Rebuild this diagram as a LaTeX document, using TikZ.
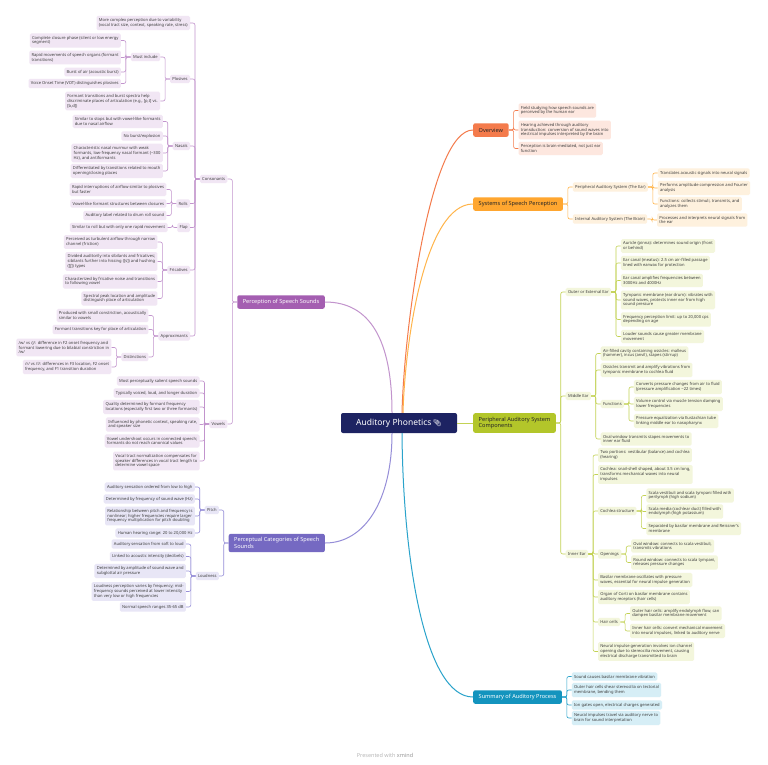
\documentclass[tikz,border=0pt]{standalone}
\usepackage{fontspec}
\setmainfont{Noto Sans}
\newfontfamily\emo{Noto Emoji}
\usetikzlibrary{calc}
\definecolor{rootc}{HTML}{1D2362}
\definecolor{leaftext}{HTML}{3C3C3C}
\definecolor{ovF}{HTML}{F47B4C}\definecolor{ovL}{HTML}{F47B4C}\definecolor{ovLeaf}{HTML}{FDE7DF}
\definecolor{syF}{HTML}{FFA62F}\definecolor{syL}{HTML}{FFB54A}\definecolor{syLeaf}{HTML}{FEF1DE}
\definecolor{pcF}{HTML}{B3C62A}\definecolor{pcL}{HTML}{C3D254}\definecolor{pcLeaf}{HTML}{F3F6DC}
\definecolor{suF}{HTML}{1494BE}\definecolor{suL}{HTML}{2AA3CB}\definecolor{suLeaf}{HTML}{D6EEF6}
\definecolor{peF}{HTML}{A45EB1}\definecolor{peL}{HTML}{C294CD}\definecolor{peLeaf}{HTML}{F1E6F4}
\definecolor{caF}{HTML}{7569C2}\definecolor{caL}{HTML}{968ED8}\definecolor{caLeaf}{HTML}{E8E6F6}
\newcommand\lffont{\fontsize{4.1}{4.8}\selectfont}
\newcommand\brfont{\fontsize{5.6}{6.6}\selectfont}
\tikzset{
  leafbase/.style={font=\lffont, text=leaftext, rounded corners=1.5pt, inner xsep=2.3pt, inner ysep=2.6pt, align=left},
  linebase/.style={line width=0.6pt, rounded corners=2pt},
  rootline/.style={line width=1pt},
  mainbase/.style={font=\brfont, rounded corners=2pt, inner xsep=5.5pt, inner ysep=3.7pt, minimum height=13.5pt, align=left},
  ovleaf/.style={leafbase, fill=ovLeaf}, ovline/.style={linebase, draw=ovL},
  syleaf/.style={leafbase, fill=syLeaf}, syline/.style={linebase, draw=syL},
  pcleaf/.style={leafbase, fill=pcLeaf}, pcline/.style={linebase, draw=pcL},
  suleaf/.style={leafbase, fill=suLeaf}, suline/.style={linebase, draw=suL},
  peleaf/.style={leafbase, fill=peLeaf}, peline/.style={linebase, draw=peL},
  caleaf/.style={leafbase, fill=caLeaf}, caline/.style={linebase, draw=caL},
}
% right child: #1 prefix, #2 name, #3 parent, #4 y, #5 text
\newcommand\RC[5]{%
  \path (#3.east) ++(9.5,0) coordinate (tmp);
  \node[#1leaf,anchor=west] (#2) at (tmp |- 0,#4) {#5};
  \draw[#1line] (#3.east) -- ++(4.75,0) |- (#2.west);}
\newcommand\LC[5]{%
  \path (#3.west) ++(-9.5,0) coordinate (tmp);
  \node[#1leaf,anchor=east] (#2) at (tmp |- 0,#4) {#5};
  \draw[#1line] (#3.west) -- ++(-4.75,0) |- (#2.east);}
\begin{document}
\begin{tikzpicture}[x=1pt,y=-1pt]
\path[use as bounding box, fill=white] (0,0) rectangle (768,764);

% root
\node[fill=rootc, text=white, rounded corners=2pt, minimum width=116pt, minimum height=20pt, inner sep=0pt,
  font=\fontsize{8.5}{10}\selectfont] (root) at (399,423) {Auditory Phonetics\,{\emo\fontsize{7}{8}\selectfont\symbol{"1F4CE}}};

% ===== Overview
\node[mainbase, fill=ovF, text=black!85, anchor=west] (ov) at (473,130) {Overview};
\RC{ov}{ov1}{ov}{110.5}{Field studying how speech sounds are\\perceived by the human ear}
\RC{ov}{ov2}{ov}{130}{Hearing achieved through auditory\\transduction: conversion of sound waves into\\electrical impulses interpreted by the brain}
\RC{ov}{ov3}{ov}{148.5}{Perception is brain-mediated, not just ear\\function}

% ===== Systems
\node[mainbase, fill=syF, text=black!85, anchor=west] (sy) at (473,204) {Systems of Speech Perception};
\RC{sy}{sy1}{sy}{187}{Peripheral Auditory System (The Ear)}
\RC{sy}{sy2}{sy}{219}{Internal Auditory System (The Brain)}
\RC{sy}{sy11}{sy1}{173}{Translates acoustic signals into neural signals}
\RC{sy}{sy12}{sy1}{188}{Performs amplitude compression and Fourier\\analysis}
\RC{sy}{sy13}{sy1}{204}{Functions: collects stimuli, transmits, and\\analyzes them}
\RC{sy}{sy21}{sy2}{220}{Processes and interprets neural signals from\\the ear}

% ===== Peripheral components
\node[mainbase, fill=pcF, text=black!85, anchor=west] (pc) at (473,423) {Peripheral Auditory System\\Components};
\RC{pc}{oe}{pc}{292}{Outer or External Ear}
\RC{pc}{oe1}{oe}{246}{Auricle (pinna): determines sound origin (front\\or behind)}
\RC{pc}{oe2}{oe}{263}{Ear canal (meatus): 2.5 cm air-filled passage\\lined with earwax for protection}
\RC{pc}{oe3}{oe}{280.5}{Ear canal amplifies frequencies between\\3000Hz and 4000Hz}
\RC{pc}{oe4}{oe}{300}{Tympanic membrane (ear drum): vibrates with\\sound waves, protects inner ear from high\\sound pressure}
\RC{pc}{oe5}{oe}{319.5}{Frequency perception limit: up to 20,000 cps\\depending on age}
\RC{pc}{oe6}{oe}{336.5}{Louder sounds cause greater membrane\\movement}
\RC{pc}{me}{pc}{396}{Middle Ear}
\RC{pc}{me1}{me}{353.5}{Air-filled cavity containing ossicles: malleus\\(hammer), incus (anvil), stapes (stirrup)}
\RC{pc}{me2}{me}{370}{Ossicles transmit and amplify vibrations from\\tympanic membrane to cochlea fluid}
\RC{pc}{mf}{me}{404}{Functions}
\RC{pc}{mf1}{mf}{387}{Converts pressure changes from air to fluid\\(pressure amplification \textasciitilde22 times)}
\RC{pc}{mf2}{mf}{404}{Volume control via muscle tension damping\\lower frequencies}
\RC{pc}{mf3}{mf}{421}{Pressure equalization via Eustachian tube\\linking middle ear to nasopharynx}
\RC{pc}{me4}{me}{439}{Oval window transmits stapes movements to\\inner ear fluid}
\RC{pc}{ie}{pc}{554}{Inner Ear}
\RC{pc}{ie1}{ie}{455}{Two portions: vestibular (balance) and cochlea\\(hearing)}
\RC{pc}{ie2}{ie}{474.5}{Cochlea: snail-shell shaped, about 3.5 cm long,\\transforms mechanical waves into neural\\impulses}
\RC{pc}{cs}{ie}{511}{Cochlea structure}
\RC{pc}{cs1}{cs}{495.5}{Scala vestibuli and scala tympani filled with\\perilymph (high sodium)}
\RC{pc}{cs2}{cs}{511.5}{Scala media (cochlear duct) filled with\\endolymph (high potassium)}
\RC{pc}{cs3}{cs}{528.5}{Separated by basilar membrane and Reissner's\\membrane}
\RC{pc}{op}{ie}{554}{Openings}
\RC{pc}{op1}{op}{546}{Oval window: connects to scala vestibuli,\\transmits vibrations}
\RC{pc}{op2}{op}{562.5}{Round window: connects to scala tympani,\\releases pressure changes}
\RC{pc}{ie5}{ie}{580}{Basilar membrane oscillates with pressure\\waves, essential for neural impulse generation}
\RC{pc}{ie6}{ie}{597}{Organ of Corti on basilar membrane contains\\auditory receptors (hair cells)}
\RC{pc}{hc}{ie}{622}{Hair cells}
\RC{pc}{hc1}{hc}{613.5}{Outer hair cells: amplify endolymph flow, can\\dampen basilar membrane movement}
\RC{pc}{hc2}{hc}{631}{Inner hair cells: convert mechanical movement\\into neural impulses, linked to auditory nerve}
\RC{pc}{ie8}{ie}{651.5}{Neural impulse generation involves ion channel\\opening due to stereocilia movement, causing\\electrical discharge transmitted to brain}

% ===== Summary
\node[mainbase, fill=suF, text=white, anchor=west] (su) at (473,697) {Summary of Auditory Process};
\RC{su}{su1}{su}{676.5}{Sound causes basilar membrane vibration}
\RC{su}{su2}{su}{690}{Outer hair cells shear stereocilia on tectorial\\membrane, bending them}
\RC{su}{su3}{su}{705}{Ion gates open, electrical charges generated}
\RC{su}{su4}{su}{718}{Neural impulses travel via auditory nerve to\\brain for sound interpretation}

% ===== Perception of Speech Sounds
\node[mainbase, fill=peF, text=white, anchor=east] (pe) at (325,302) {Perception of Speech Sounds};
\LC{pe}{co}{pe}{179}{Consonants}
\LC{pe}{vo}{pe}{424}{Vowels}
\LC{pe}{co1}{co}{23}{More complex perception due to variability\\(vocal tract size, context, speaking rate, stress)}
\LC{pe}{pl}{co}{79}{Plosives}
\LC{pe}{mi}{pl}{57}{Must include}
\LC{pe}{mi1}{mi}{40.5}{Complete closure phase (silent or low energy\\segment)}
\LC{pe}{mi2}{mi}{57.5}{Rapid movements of speech organs (formant\\transitions)}
\LC{pe}{mi3}{mi}{72}{Burst of air (acoustic burst)}
\LC{pe}{mi4}{mi}{83.5}{Voice Onset Time (VOT) distinguishes plosives}
\LC{pe}{pl2}{pl}{101}{Formant transitions and burst spectra help\\discriminate places of articulation (e.g., [p,t] vs.\\{[}b,d])}
\LC{pe}{na}{co}{146}{Nasals}
\LC{pe}{na1}{na}{121.5}{Similar to stops but with vowel-like formants\\due to nasal airflow}
\LC{pe}{na2}{na}{136}{No burst/explosion}
\LC{pe}{na3}{na}{153}{Characteristic nasal murmur with weak\\formants, low-frequency nasal formant (\textasciitilde300\\Hz), and antiformants}
\LC{pe}{na4}{na}{171}{Differentiated by transitions related to mouth\\opening/closing places}
\LC{pe}{ro}{co}{203.5}{Rolls}
\LC{pe}{ro1}{ro}{189.5}{Rapid interruptions of airflow similar to plosives\\but faster}
\LC{pe}{ro2}{ro}{203.5}{Vowel-like formant structures between closures}
\LC{pe}{ro3}{ro}{215.5}{Auditory label related to drum roll sound}
\LC{pe}{fl}{co}{227.5}{Flap}
\LC{pe}{fl1}{fl}{227.5}{Similar to roll but with only one rapid movement}
\LC{pe}{fr}{co}{270}{Fricatives}
\LC{pe}{fr1}{fr}{242}{Perceived as turbulent airflow through narrow\\channel (friction)}
\LC{pe}{fr2}{fr}{261.5}{Divided auditorily into sibilants and fricatives;\\sibilants further into hissing ([s]) and hushing\\([ʃ]) types}
\LC{pe}{fr3}{fr}{281.5}{Characterized by fricative noise and transitions\\to following vowel}
\LC{pe}{fr4}{fr}{298.5}{Spectral peak location and amplitude\\distinguish place of articulation}
\LC{pe}{ap}{co}{336}{Approximants}
\LC{pe}{ap1}{ap}{315.5}{Produced with small constriction, acoustically\\similar to vowels}
\LC{pe}{ap2}{ap}{329.5}{Formant transitions key for place of articulation}
\LC{pe}{di}{ap}{357}{Distinctions}
\LC{pe}{di1}{di}{347.5}{/w/ vs /j/: difference in F2 onset frequency and\\formant lowering due to bilabial constriction in\\/w/}
\LC{pe}{di2}{di}{367}{/r/ vs /l/: differences in F3 location, F2 onset\\frequency, and F1 transition duration}
\LC{pe}{vo1}{vo}{381}{Most perceptually salient speech sounds}
\LC{pe}{vo2}{vo}{393}{Typically voiced, loud, and longer duration}
\LC{pe}{vo3}{vo}{407}{Quality determined by formant frequency\\locations (especially first two or three formants)}
\LC{pe}{vo4}{vo}{424.5}{Influenced by phonetic context, speaking rate,\\and speaker size}
\LC{pe}{vo5}{vo}{441}{Vowel undershoot occurs in connected speech;\\formants do not reach canonical values}
\LC{pe}{vo6}{vo}{461}{Vocal tract normalization compensates for\\speaker differences in vocal tract length to\\determine vowel space}

% ===== Perceptual Categories
\node[mainbase, fill=caF, text=white, anchor=east] (ca) at (325,543) {Perceptual Categories of Speech\\Sounds};
\LC{ca}{pi}{ca}{510}{Pitch}
\LC{ca}{lo}{ca}{576}{Loudness}
\LC{ca}{pi1}{pi}{487}{Auditory sensation ordered from low to high}
\LC{ca}{pi2}{pi}{499}{Determined by frequency of sound wave (Hz)}
\LC{ca}{pi3}{pi}{516}{Relationship between pitch and frequency is\\nonlinear; higher frequencies require larger\\frequency multiplication for pitch doubling}
\LC{ca}{pi4}{pi}{533}{Human hearing range: 20 to 20,000 Hz}
\LC{ca}{lo1}{lo}{544}{Auditory sensation from soft to loud}
\LC{ca}{lo2}{lo}{556.5}{Linked to acoustic intensity (decibels)}
\LC{ca}{lo3}{lo}{571}{Determined by amplitude of sound wave and\\subglottal air pressure}
\LC{ca}{lo4}{lo}{591.5}{Loudness perception varies by frequency; mid-\\frequency sounds perceived at lower intensity\\than very low or high frequencies}
\LC{ca}{lo5}{lo}{607}{Normal speech ranges 35-65 dB}

% ===== root connectors
\draw[rootline, draw=ovL] ([xshift=3pt]root.north) .. controls (404,330) and (430,130) .. (ov.west);
\draw[rootline, draw=syL] ([xshift=4pt]root.north) .. controls (405,340) and (425,204) .. (sy.west);
\draw[rootline, draw=peL] ([xshift=-7pt]root.north) .. controls (392,340) and (370,302) .. (pe.east);
\draw[rootline, draw=pcL] (root.east) -- (pc.west);
\draw[rootline, draw=suL] ([xshift=3pt]root.south) .. controls (403,560) and (425,697) .. (su.west);
\draw[rootline, draw=caL] ([xshift=-7pt]root.south) .. controls (392,500) and (365,543) .. (ca.east);

\node[font=\fontsize{5.5}{6}\selectfont, text=black!28] (foot) at (385,755) {Presented with {\color{black!40}\textbf{xmind}}};
\end{tikzpicture}
\end{document}
